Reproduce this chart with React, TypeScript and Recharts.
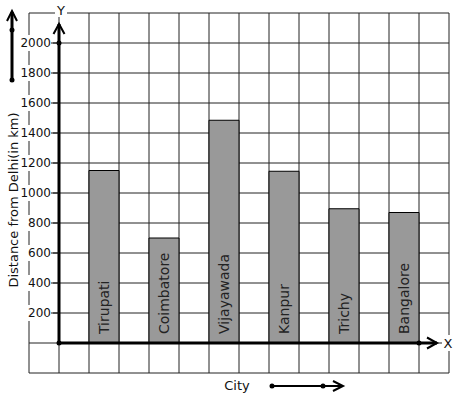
import React from 'react';
import { BarChart, Bar, XAxis, YAxis, CartesianGrid, ReferenceLine, ReferenceDot, LabelList } from 'recharts';

const cities = ['Tirupati', 'Coimbatore', 'Vijayawada', 'Kanpur', 'Trichy', 'Bangalore'];
const distances = [1150, 700, 1485, 1145, 895, 870];
const yGridTicks = [-200, 0, 200, 400, 600, 800, 1000, 1200, 1400, 1600, 1800, 2000, 2200];
const yLabelTicks = [200, 400, 600, 800, 1000, 1200, 1400, 1600, 1800, 2000];
const xGridTicks = [-1.25, -0.75, -0.25, 0.25, 0.75, 1.25, 1.75, 2.25, 2.75, 3.25, 3.75, 4.25, 4.75, 5.25, 5.75];

const data = cities.map((city, i) => ({ idx: i, city, distance: distances[i] }));

const FONT = '"DejaVu Sans", sans-serif';

const YTick = (props: any) => {
  const { x, y, payload } = props;
  if (!yLabelTicks.includes(payload.value)) return <g />;
  return (
    <g>
      <rect x={x - 7} y={y - 8} width={31} height={16} fill="#fff" />
      <text x={x + 22} y={y} textAnchor="end" dominantBaseline="central" fontSize={12} fontFamily={FONT} fill="#111">
        {payload.value}
      </text>
      <line x1={x + 22} x2={x + 30} y1={y} y2={y} stroke="#111" strokeWidth={1} />
    </g>
  );
};

const EmptyTick = () => <g />;

const ArrowLine = (p: any) => {
  const { x1, y1, x2, y2 } = p;
  const dx = x2 - x1;
  const dy = y2 - y1;
  const len = Math.sqrt(dx * dx + dy * dy) || 1;
  const ux = dx / len;
  const uy = dy / len;
  const L = 10;
  const W = 5.5;
  const bx = x2 - ux * L;
  const by = y2 - uy * L;
  const px = -uy;
  const py = ux;
  return (
    <g>
      <line x1={x1} y1={y1} x2={x2} y2={y2} stroke="#000" strokeWidth={3} />
      <path
        d={`M${bx + px * W},${by + py * W} L${x2},${y2} L${bx - px * W},${by - py * W}`}
        fill="none"
        stroke="#000"
        strokeWidth={2}
      />
    </g>
  );
};

const BarLabel = (props: any) => {
  const { x, y, width, height, value } = props;
  const cx = x + width / 2;
  const by = y + height - 9;
  return (
    <text
      transform={`translate(${cx},${by}) rotate(-90)`}
      textAnchor="start"
      dominantBaseline="central"
      fontSize={14}
      fontFamily={FONT}
      fill="#222"
    >
      {value}
    </text>
  );
};

export default function App() {
  return (
    <div style={{ position: 'absolute', left: 0, top: 0, width: 457, height: 399, background: '#fff' }}>
      <BarChart width={457} height={399} data={data} margin={{ top: 13, right: 8, bottom: 25, left: 28 }}>
        <CartesianGrid stroke="#222" strokeWidth={1} strokeOpacity={1} />
        <XAxis
          type="number"
          dataKey="idx"
          domain={[-1.25, 5.75]}
          ticks={xGridTicks}
          height={1}
          axisLine={false}
          tickLine={false}
          tickSize={0}
          tick={<EmptyTick />}
          allowDataOverflow
          interval={0}
        />
        <YAxis
          type="number"
          domain={[-200, 2200]}
          ticks={yGridTicks}
          width={1}
          axisLine={false}
          tickLine={false}
          tickSize={0}
          tickMargin={0}
          tick={<YTick />}
          interval={0}
          allowDataOverflow
        />
        <Bar dataKey="distance" barSize={30} fill="#999999" stroke="#000" strokeWidth={1} isAnimationActive={false}>
          <LabelList dataKey="city" content={<BarLabel />} />
        </Bar>
        <ReferenceLine segment={[{ x: -0.75, y: 0 }, { x: -0.75, y: 2127 }]} shape={<ArrowLine />} />
        <ReferenceLine segment={[{ x: -0.75, y: 0 }, { x: 5.55, y: 0 }]} shape={<ArrowLine />} />
        <ReferenceDot x={-0.75} y={0} r={2.5} fill="#000" stroke="none" />
        <ReferenceDot x={-0.75} y={2000} r={2.5} fill="#000" stroke="none" />
        <ReferenceDot x={5.25} y={0} r={2.5} fill="#000" stroke="none" />
      </BarChart>
      <svg width={457} height={399} style={{ position: 'absolute', left: 0, top: 0, pointerEvents: 'none' }}>
        <rect x={55} y={2} width={12} height={15} fill="#fff" />
        <text x={61} y={10} textAnchor="middle" dominantBaseline="central" fontSize={13} fontFamily={FONT} fill="#111">Y</text>
        <rect x={442} y={335} width={13} height={16} fill="#fff" />
        <text x={448} y={343} textAnchor="middle" dominantBaseline="central" fontSize={13} fontFamily={FONT} fill="#111">X</text>
        <text x={237} y={390} textAnchor="middle" fontSize={13} fontFamily={FONT} fill="#111">City</text>
        <text transform="translate(17.5,200) rotate(-90)" textAnchor="middle" fontSize={13} fontFamily={FONT} fill="#111">
          Distance from Delhi(in km)
        </text>
        <line x1={12} y1={80} x2={12} y2={12} stroke="#000" strokeWidth={3} />
        <path d="M7,21 L12,11 L17,21" fill="none" stroke="#000" strokeWidth={2} />
        <circle cx={12} cy={30} r={2.5} fill="#000" />
        <circle cx={12} cy={80} r={2.5} fill="#000" />
        <line x1={272} y1={386} x2={342} y2={386} stroke="#000" strokeWidth={2} />
        <path d="M333,381 L343,386 L333,391" fill="none" stroke="#000" strokeWidth={2} />
        <circle cx={272} cy={386} r={2.5} fill="#000" />
        <circle cx={323} cy={386} r={2.5} fill="#000" />
      </svg>
    </div>
  );
}
